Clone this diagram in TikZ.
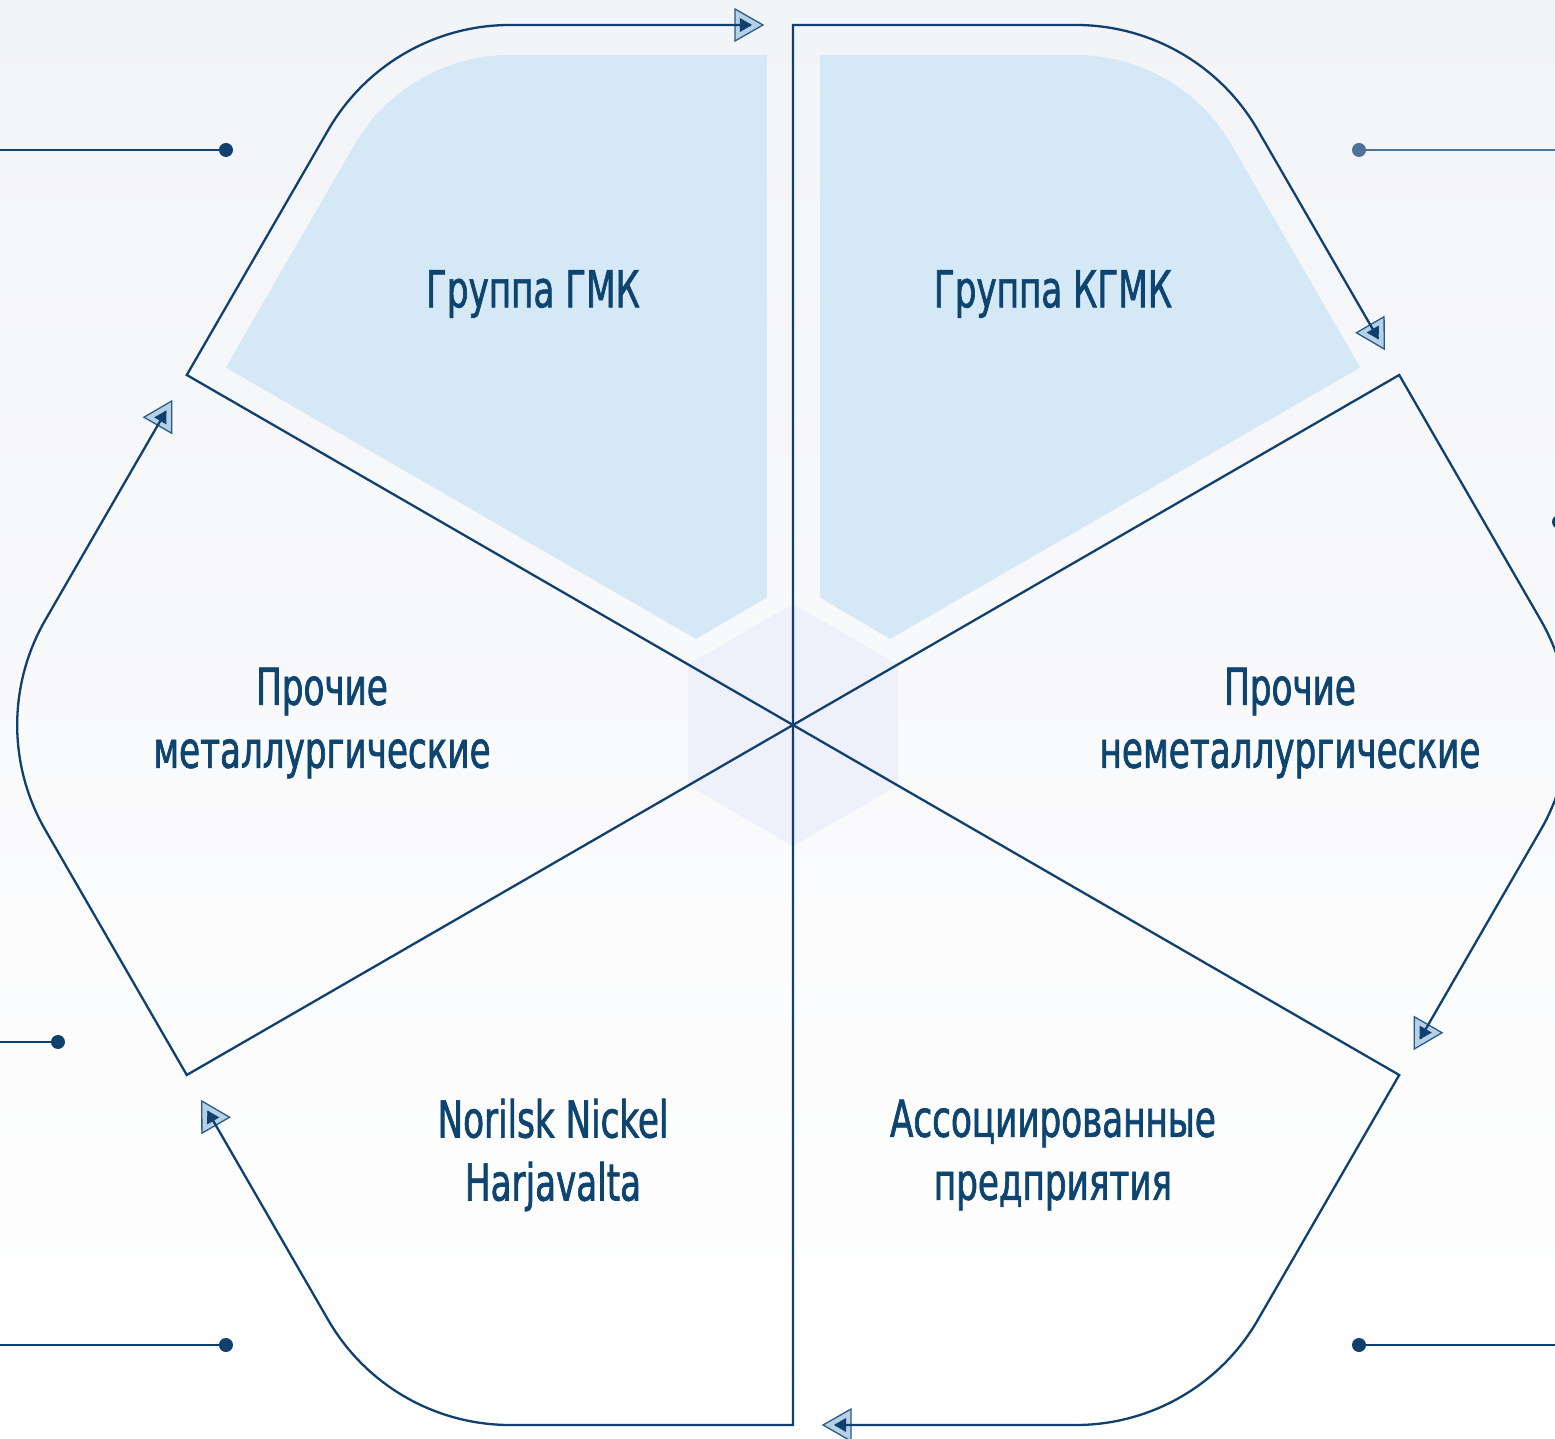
\documentclass[tikz,border=0pt]{standalone}
\usepackage{fontspec}
\newfontfamily\lblfont[FakeStretch=0.745,FakeBold=1.3]{DejaVu Sans Condensed}
\usetikzlibrary{calc}
\definecolor{linec}{RGB}{16,64,110}
\definecolor{textc}{RGB}{14,68,112}
\definecolor{fillc}{RGB}{213,232,245}
\definecolor{hexc}{RGB}{238,241,250}
\definecolor{arrfill}{RGB}{182,208,230}
\definecolor{arrdraw}{RGB}{42,90,136}
\definecolor{bgtop}{RGB}{243,244,247}
\definecolor{lightline}{RGB}{77,115,153}
\tikzset{
  outl/.style={draw=linec, line width=2.3pt, line join=miter},
  sidel/.style={draw=linec, line width=2.3pt},
  dotn/.style={circle, fill=linec, inner sep=0pt, minimum size=14pt},
  lbl/.style={text=textc, font=\lblfont\fontsize{51}{63}\selectfont, align=center, inner sep=0pt},
  bigtri/.style={fill=arrfill, draw=arrdraw, line width=1.3pt, line join=miter},
}
\newcommand\arrmark[2]{%
  \begin{scope}[shift={(#1)}, rotate=#2]
    \filldraw[bigtri] (-16,16) -- (12,0) -- (-16,-16) -- cycle;
  \end{scope}}
\newcommand\arrtip[2]{%
  \begin{scope}[shift={(#1)}, rotate=#2]
    \fill[linec] (-11,7) -- (1,0) -- (-11,-7) -- cycle;
  \end{scope}}
\begin{document}
\begin{tikzpicture}[x=1pt, y=1pt]
\useasboundingbox (-793,-714) rectangle (762,725);
\shade[top color=bgtop, bottom color=white] (-793,-714) rectangle (762,725);

% inner light-blue fills of the two upper sectors
\fill[fillc] (-26,670) -- (-282.8,670) arc[start angle=90, end angle=150, radius=180]
  -- (-567.2,357.5) -- (-97,86) -- (-26,127.6) -- cycle;
\fill[fillc] (27,670) -- (282.8,670) arc[start angle=90, end angle=30, radius=180]
  -- (567.2,357.5) -- (97,86) -- (27,127.6) -- cycle;

% central hexagon
\fill[hexc] (90:121) -- (30:121) -- (-30:121) -- (-90:121) -- (-150:121) -- (150:121) -- cycle;

% arrow end points
\foreach \a in {90,30,-30,-90,-150,150} {
  \coordinate (e\a) at ($(\a-60:700)+(\a+30:42)$);
}
% big light triangles under the lines
\foreach \a in {90,30,-30,-90,-150,150} {
  \pgfmathsetmacro\rot{\a-150}
  \arrmark{e\a}{\rot}
}
% sector outlines
\foreach \a in {90,30,-30,-90,-150,150} {
  \draw[outl] (0,0) -- (\a:700) -- ($(\a-30:808.29)+(\a+90:121.24)$)
    arc[start angle=\a, end angle=\a-60, radius=210] -- (e\a);
}
% dark arrow tips
\foreach \a in {90,30,-30,-90,-150,150} {
  \pgfmathsetmacro\rot{\a-150}
  \arrtip{e\a}{\rot}
}

% side lines with dots
\node[dotn] (d1) at (-567,575) {};
\coordinate (d1e) at (-793,575);
\draw[sidel] (d1e) -- (d1.center);
\node[dotn] (d2) at (-735,-317) {};
\coordinate (d2e) at (-793,-317);
\draw[sidel] (d2e) -- (d2.center);
\node[dotn] (d3) at (-567,-620) {};
\coordinate (d3e) at (-793,-620);
\draw[sidel] (d3e) -- (d3.center);
\node[dotn, fill=lightline] (d4) at (566,575) {};
\coordinate (d4e) at (762,575);
\draw[sidel, draw=lightline] (d4.center) -- (d4e);
\node[dotn] (d5) at (766,203) {};
\node[dotn] (d6) at (566,-620) {};
\coordinate (d6e) at (762,-620);
\draw[sidel] (d6.center) -- (d6e);

% labels
\node[lbl] (gmk) at (-260,431) {Группа ГМК};
\node[lbl] (kgmk) at (260,431) {Группа КГМК};
\node[lbl] (met) at (-471,2) {Прочие\\металлургические};
\node[lbl] (nonmet) at (497,2) {Прочие\\неметаллургические};
\node[lbl] (nnh) at (-240,-430) {Norilsk Nickel\\Harjavalta};
\node[lbl] (assoc) at (260,-430) {Ассоциированные\\предприятия};
\end{tikzpicture}
\end{document}
